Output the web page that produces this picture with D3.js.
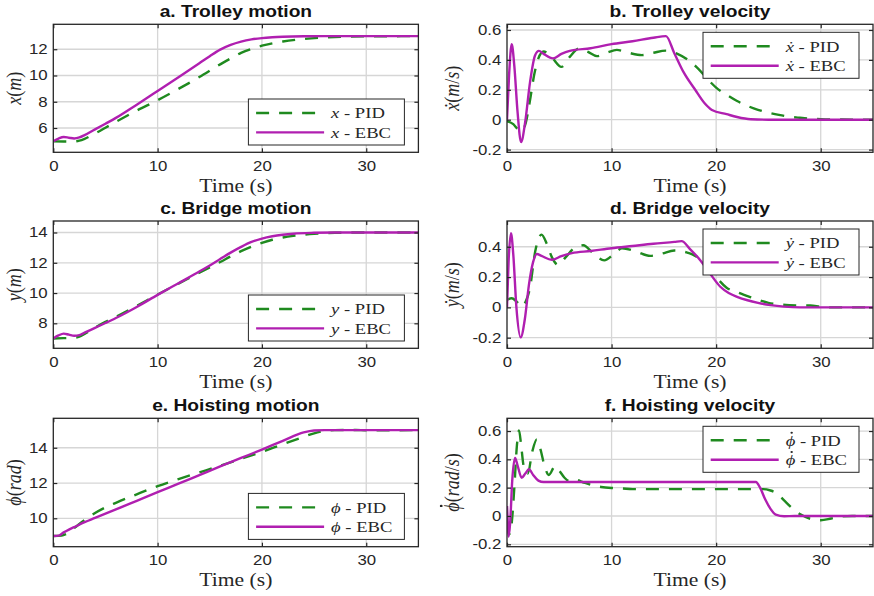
<!DOCTYPE html>
<html>
<head>
<meta charset="utf-8">
<script src="https://cdn.jsdelivr.net/npm/d3@7"></script>
<style>
  body { margin: 0; background: #fff; }
  svg { display: block; }
</style>
</head>
<body>
<div id="chart"></div>
<script>
// time axis shared by all panels
var timeTicks = [0, 10, 20, 30];
var timeRange = [0, 35];

// a. trolley position  [t, x]
var trolleyPosPID = [[0,4.98],[1,4.97],[2,4.98],[2.5,5.04],[3,5.18],[4,5.58],[5,6.02],[6,6.47],[8,7.33],[10,8.12],[12,8.98],[14,9.88],[16,10.85],[17,11.3],[18,11.72],[19,12.03],[20,12.27],[21,12.45],[22,12.59],[24,12.78],[26,12.89],[28,12.95],[30,12.98],[35,13.0]];
var trolleyPosEBC = [[0,5.0],[0.5,5.2],[1,5.32],[1.5,5.26],[2,5.2],[2.5,5.28],[3,5.46],[4,5.9],[5,6.33],[6,6.77],[8,7.78],[10,8.82],[12,9.87],[14,10.93],[15,11.47],[16,11.97],[17,12.33],[18,12.58],[19,12.75],[20,12.85],[21,12.91],[22,12.95],[24,12.99],[26,13.0],[35,13.0]];

// b. trolley velocity
var trolleyVelPID = [[0,-0.01],[0.6,-0.03],[1.0,-0.06],[1.4,-0.075],[1.8,-0.02],[2.2,0.13],[2.6,0.3],[3.0,0.41],[3.5,0.456],[4.3,0.415],[5.2,0.353],[6.0,0.42],[6.9,0.477],[7.7,0.455],[8.6,0.425],[9.6,0.45],[10.5,0.467],[11.6,0.448],[12.9,0.432],[14.0,0.448],[15.2,0.462],[16.3,0.44],[17.3,0.4],[18.3,0.34],[19.2,0.27],[20,0.215],[21,0.167],[22,0.125],[23,0.092],[24,0.066],[25,0.047],[26,0.032],[27,0.02],[28,0.013],[30,0.004],[32,0.001],[35,0]];
var trolleyVelEBC = [[0,0],[0.2,0.3],[0.45,0.505],[0.7,0.36],[1.0,0.06],[1.35,-0.15],[1.73,-0.02],[2.2,0.25],[2.68,0.43],[3.05,0.46],[3.5,0.44],[4.4,0.41],[5.2,0.44],[6,0.46],[8,0.478],[10,0.505],[12,0.525],[14,0.548],[15.2,0.559],[16,0.445],[16.9,0.316],[18,0.2],[18.9,0.11],[19.6,0.065],[21,0.037],[22,0.018],[23.3,0.003],[25,0],[35,0]];

// c. bridge position
var bridgePosPID = [[0,7.0],[1,7.02],[2,7.05],[2.5,7.12],[3,7.3],[4,7.72],[5,8.1],[6,8.43],[8,9.15],[10,9.9],[12,10.62],[14,11.35],[15,11.7],[16,12.05],[17,12.42],[18,12.77],[19,13.07],[20,13.32],[21,13.52],[22,13.67],[23,13.78],[24,13.86],[25,13.92],[27,13.98],[30,14.0],[35,14.0]];
var bridgePosEBC = [[0,7.0],[0.5,7.2],[1,7.32],[1.5,7.25],[2,7.18],[2.5,7.22],[3,7.38],[4,7.7],[5,8.02],[6,8.35],[8,9.08],[10,9.88],[12,10.65],[14,11.42],[15,11.82],[16,12.25],[17,12.67],[18,13.05],[19,13.38],[20,13.6],[21,13.75],[22,13.85],[23,13.92],[25,13.98],[27,14.0],[35,14.0]];

// d. bridge velocity
var bridgeVelPID = [[0,0.05],[0.45,0.06],[0.9,0.04],[1.4,0.005],[1.8,0.04],[2.2,0.13],[2.7,0.37],[3.3,0.48],[3.8,0.42],[4.3,0.33],[4.9,0.28],[5.6,0.33],[6.4,0.39],[7.3,0.41],[8.2,0.36],[9.3,0.31],[10.2,0.35],[11,0.39],[12.3,0.37],[13.7,0.34],[14.8,0.355],[16,0.375],[17.3,0.36],[18,0.34],[19,0.28],[20,0.2],[21,0.13],[22,0.1],[23,0.075],[24,0.05],[25,0.03],[26,0.02],[27,0.015],[28,0.013],[29,0.012],[30,0.005],[31,0],[35,0]];
var bridgeVelEBC = [[0,0],[0.15,0.3],[0.38,0.49],[0.6,0.35],[0.9,0.0],[1.31,-0.198],[1.7,-0.08],[2.1,0.15],[2.5,0.3],[2.85,0.352],[3.3,0.34],[4.28,0.314],[5.2,0.338],[6.2,0.358],[8,0.372],[10,0.39],[12,0.405],[14,0.42],[16,0.432],[16.7,0.437],[17.5,0.385],[18.5,0.31],[19.5,0.215],[20.4,0.136],[21.2,0.095],[22,0.07],[23,0.047],[24,0.03],[25.2,0.015],[26.5,0.005],[28,0],[35,0]];

// e. hoisting position
var hoistPosPID = [[0,9.0],[0.8,9.02],[1.2,9.1],[2,9.45],[3,9.9],[4,10.3],[5,10.62],[6,10.88],[8,11.36],[10,11.82],[12,12.22],[14,12.6],[16,12.98],[18,13.37],[20,13.77],[22,14.2],[24,14.62],[25,14.82],[26,14.95],[27,15.0],[29,15.01],[30,14.99],[35,15.0]];
var hoistPosEBC = [[0,9.0],[0.5,9.02],[1,9.2],[1.5,9.36],[2,9.5],[3,9.78],[4,10.02],[6,10.5],[8,10.99],[10,11.48],[12,11.96],[14,12.45],[16,12.94],[18,13.42],[20,13.9],[22,14.39],[24,14.87],[25,14.98],[26,15.0],[35,15.0]];

// f. hoisting velocity
var hoistVelPID = [[0,-0.05],[0.2,-0.13],[0.45,-0.05],[0.7,0.2],[0.95,0.5],[1.15,0.605],[1.35,0.5],[1.6,0.35],[2.0,0.3],[2.4,0.45],[2.85,0.54],[3.2,0.47],[3.6,0.35],[4.0,0.29],[4.6,0.353],[5.0,0.32],[5.5,0.27],[6.0,0.245],[6.6,0.255],[7.2,0.24],[8,0.22],[9,0.205],[10,0.198],[11,0.195],[12,0.19],[24.5,0.19],[25.2,0.18],[25.8,0.16],[26.5,0.11],[27.2,0.06],[28.1,0.01],[29,-0.02],[30,-0.03],[31,-0.018],[32,-0.003],[33,0],[35,0]];
var hoistVelEBC = [[0,0.07],[0.08,-0.05],[0.15,-0.145],[0.3,-0.05],[0.5,0.25],[0.77,0.41],[1.0,0.36],[1.4,0.27],[1.75,0.3],[2.1,0.33],[2.5,0.29],[3.0,0.25],[3.5,0.24],[23.8,0.24],[24.2,0.2],[24.7,0.116],[25.2,0.05],[25.7,0.01],[26.5,-0.002],[27.5,0],[35,0]];

var W = 874, H = 596;
var green = "#1f8a1f", magenta = "#b01fb0", axisColor = "#262626", gridColor = "#d6d6d6";
var stretch = 1.2;   // the original figure is a bit wider than tall

var cols = [[53.3, 418.4], [507, 873]];
var rows = [[24.3, 152.3], [221, 348.3], [418.3, 546.7]];

var panels = [
  { title: "a. Trolley motion",   col: 0, row: 0, yDomain: [4.15, 13.9],    yTicks: [6, 8, 10, 12],            pid: trolleyPosPID, ebc: trolleyPosEBC, sym: "x", dot: false, unit: ["m"],           legend: "bottom" },
  { title: "b. Trolley velocity", col: 1, row: 0, yDomain: [-0.218, 0.638], yTicks: [-0.2, 0, 0.2, 0.4, 0.6], pid: trolleyVelPID, ebc: trolleyVelEBC, sym: "ẋ", dot: false, unit: ["m", "/", "s"], legend: "top" },
  { title: "c. Bridge motion",    col: 0, row: 1, yDomain: [6.35, 14.76],   yTicks: [8, 10, 12, 14],           pid: bridgePosPID, ebc: bridgePosEBC, sym: "y", dot: false, unit: ["m"],           legend: "bottom" },
  { title: "d. Bridge velocity",  col: 1, row: 1, yDomain: [-0.27, 0.57],   yTicks: [-0.2, 0, 0.2, 0.4],       pid: bridgeVelPID, ebc: bridgeVelEBC, sym: "ẏ", dot: false, unit: ["m", "/", "s"], legend: "top" },
  { title: "e. Hoisting motion",  col: 0, row: 2, yDomain: [8.39, 15.67],   yTicks: [10, 12, 14],              pid: hoistPosPID, ebc: hoistPosEBC, sym: "ϕ", dot: false, unit: ["rad"],         legend: "bottom" },
  { title: "f. Hoisting velocity",col: 1, row: 2, yDomain: [-0.217, 0.69],  yTicks: [-0.2, 0, 0.2, 0.4, 0.6], pid: hoistVelPID, ebc: hoistVelEBC, sym: "ϕ", dot: true,  unit: ["rad", "/", "s"], legend: "top" }
];

var svg = d3.select("#chart").append("svg")
  .attr("width", W).attr("height", H)
  .attr("viewBox", [0, 0, W, H]);

var serif = "'Liberation Serif', 'Times New Roman', serif";
var sans = "'Liberation Sans', Arial, Helvetica, sans-serif";

function fmt(d) { return String(Math.round(d * 10) / 10); }

// the combining dot renders badly over phi, so put a small dot over the first glyph by hand
function dotFirstChar(holder, text, fontSize) {
  var ext = text.node().getExtentOfChar(0);
  holder.append("circle")
    .attr("cx", ext.x + ext.width * 0.62)
    .attr("cy", -0.83 * fontSize)
    .attr("r", fontSize * 0.065)
    .attr("fill", axisColor);
}

panels.forEach(function (p, i) {
  var x0 = cols[p.col][0], x1 = cols[p.col][1];
  var y0 = rows[p.row][0], y1 = rows[p.row][1];

  var x = d3.scaleLinear().domain(timeRange).range([x0, x1]);
  var y = d3.scaleLinear().domain(p.yDomain).range([y1, y0]);

  var g = svg.append("g").attr("class", "panel");

  g.append("rect").attr("x", x0).attr("y", y0).attr("width", x1 - x0).attr("height", y1 - y0)
    .attr("fill", "#fff");

  // grid
  var grid = g.append("g").attr("stroke", gridColor).attr("stroke-width", 1.3);
  grid.selectAll(".gx").data(timeTicks.filter(function (t) { return t > timeRange[0]; }))
    .enter().append("line")
    .attr("x1", function (d) { return x(d); }).attr("x2", function (d) { return x(d); })
    .attr("y1", y0).attr("y2", y1);
  grid.selectAll(".gy").data(p.yTicks)
    .enter().append("line")
    .attr("y1", function (d) { return y(d); }).attr("y2", function (d) { return y(d); })
    .attr("x1", x0).attr("x2", x1);

  // curves
  var clipId = "clip" + i;
  svg.append("clipPath").attr("id", clipId).append("rect")
    .attr("x", x0).attr("y", y0).attr("width", x1 - x0).attr("height", y1 - y0);

  var line = d3.line()
    .x(function (d) { return x(d[0]); })
    .y(function (d) { return y(d[1]); })
    .curve(d3.curveMonotoneX);

  var curves = g.append("g").attr("clip-path", "url(#" + clipId + ")").attr("fill", "none");
  curves.append("path").datum(p.pid).attr("d", line)
    .attr("stroke", green).attr("stroke-width", 2.4).attr("stroke-dasharray", "13,10");
  curves.append("path").datum(p.ebc).attr("d", line)
    .attr("stroke", magenta).attr("stroke-width", 2.4);

  // axes, ticks pointing inward on all four sides
  var ax = g.append("g").attr("class", "axes");
  ax.append("g").attr("transform", "translate(0," + y1 + ")")
    .call(d3.axisBottom(x).tickValues(timeTicks).tickSizeInner(-4).tickSizeOuter(0).tickPadding(8.5).tickFormat(fmt));
  ax.append("g").attr("transform", "translate(" + x0 + ",0)")
    .call(d3.axisLeft(y).tickValues(p.yTicks).tickSizeInner(-4).tickSizeOuter(0).tickPadding(4.7).tickFormat(fmt));
  ax.append("g").attr("transform", "translate(0," + y0 + ")")
    .call(d3.axisTop(x).tickValues(timeTicks).tickSizeInner(-4).tickSizeOuter(0).tickFormat(""));
  ax.append("g").attr("transform", "translate(" + x1 + ",0)")
    .call(d3.axisRight(y).tickValues(p.yTicks).tickSizeInner(-4).tickSizeOuter(0).tickFormat(""));

  ax.selectAll(".domain").remove();
  ax.selectAll(".tick line").attr("stroke", axisColor).attr("stroke-width", 1.2);
  ax.selectAll(".tick text")
    .attr("fill", axisColor)
    .style("font-family", sans).style("font-size", "14px")
    .attr("transform", "scale(" + stretch + ",1)");

  g.append("rect").attr("x", x0).attr("y", y0).attr("width", x1 - x0).attr("height", y1 - y0)
    .attr("fill", "none").attr("stroke", axisColor).attr("stroke-width", 1.3);

  // title
  g.append("text")
    .attr("transform", "translate(" + ((x0 + x1) / 2) + "," + (y0 - 7.5) + ") scale(" + stretch + ",1)")
    .attr("text-anchor", "middle")
    .style("font-family", sans).style("font-weight", "bold").style("font-size", "16px")
    .attr("fill", "#111")
    .text(p.title);

  // x label
  g.append("text")
    .attr("transform", "translate(" + ((x0 + x1) / 2) + "," + (y1 + 39.5) + ") scale(" + stretch + ",1)")
    .attr("text-anchor", "middle")
    .style("font-family", serif).style("font-size", "18px")
    .attr("fill", axisColor)
    .text("Time (s)");

  // y label (baseline shifted so the glyphs sit centred on the axis middle)
  var labX = p.col === 0 ? 14 : 452;
  var labSize = 18;
  var ylg = g.append("g")
    .attr("transform", "translate(" + (labX + 0.33 * labSize * stretch) + "," + ((y0 + y1) / 2) + ") rotate(-90) scale(1," + stretch + ")");
  var yl = ylg.append("text")
    .attr("text-anchor", "middle")
    .style("font-family", serif).style("font-size", labSize + "px")
    .attr("fill", axisColor);
  yl.append("tspan").style("font-style", "italic").text(p.sym);
  yl.append("tspan").text("(");
  p.unit.forEach(function (u) {
    yl.append("tspan").style("font-style", u === "/" ? "normal" : "italic").text(u);
  });
  yl.append("tspan").text(")");
  if (p.dot) dotFirstChar(ylg, yl, labSize);

  // legend
  var lw = 156, lh = 46;
  var lx = x1 - 14 - lw;
  var ly = p.legend === "top" ? y0 + 8 : y1 - 7.3 - lh;
  var lg = g.append("g").attr("transform", "translate(" + lx + "," + ly + ")");
  lg.append("rect").attr("width", lw).attr("height", lh)
    .attr("fill", "#fff").attr("stroke", axisColor).attr("stroke-width", 1);
  var entries = [{ name: "PID", color: green, dash: "13,10" }, { name: "EBC", color: magenta, dash: null }];
  var legSize = 15.5;
  entries.forEach(function (e, k) {
    var cy = 14 + k * 19.4;
    lg.append("line").attr("x1", 7.7).attr("x2", 75.7).attr("y1", cy).attr("y2", cy)
      .attr("stroke", e.color).attr("stroke-width", 2.4)
      .attr("stroke-dasharray", e.dash);
    var tg = lg.append("g")
      .attr("transform", "translate(82.7," + (cy + 5.2) + ") scale(" + stretch + ",1)");
    var t = tg.append("text")
      .style("font-family", serif).style("font-size", legSize + "px")
      .attr("fill", axisColor);
    t.append("tspan").style("font-style", "italic").text(p.sym);
    t.append("tspan").text(" - " + e.name);
    if (p.dot) dotFirstChar(tg, t, legSize);
  });
});
</script>
</body>
</html>
